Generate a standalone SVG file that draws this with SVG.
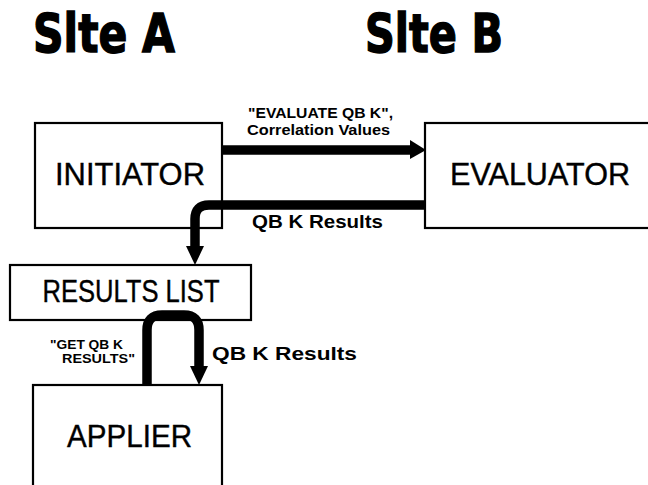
<svg xmlns="http://www.w3.org/2000/svg" width="648" height="485" viewBox="0 0 648 485">
<defs>
<style>
.box{fill:#fff;stroke:#000;stroke-width:2.2}
.nt{font-family:"Liberation Sans",Arial,sans-serif;font-size:31px;fill:#000;stroke:#000;stroke-width:0.4;text-anchor:middle}
.lb{font-family:"Liberation Sans",Arial,sans-serif;font-weight:bold;fill:#000}
.title{font-family:"DejaVu Sans",sans-serif;font-weight:bold;font-size:54px;fill:#000;stroke:#000;stroke-width:1.5}
.wire{fill:none;stroke:#000;stroke-width:9.5}
.head{fill:#000}
</style>
</defs>
<rect width="648" height="485" fill="#fff"/>
<text class="title" x="33" y="52" textLength="142" lengthAdjust="spacingAndGlyphs">Slte A</text>
<text class="title" x="365" y="52" textLength="138" lengthAdjust="spacingAndGlyphs">Slte B</text>

<g id="initiator">
<rect class="box" x="35" y="123" width="187" height="105"/>
<text class="nt" x="130" y="185" textLength="150" lengthAdjust="spacingAndGlyphs">INITIATOR</text>
</g>
<g id="evaluator">
<rect class="box" x="425" y="123" width="240" height="105"/>
<text class="nt" x="540" y="185" textLength="180" lengthAdjust="spacingAndGlyphs">EVALUATOR</text>
</g>
<g id="results-list">
<rect class="box" x="10" y="265" width="241" height="55"/>
<text class="nt" x="131" y="302" textLength="177" lengthAdjust="spacingAndGlyphs">RESULTS LIST</text>
</g>
<g id="applier">
<rect class="box" x="33" y="385" width="189" height="120"/>
<text class="nt" x="129.5" y="447" textLength="125" lengthAdjust="spacingAndGlyphs">APPLIER</text>
</g>

<g id="connectors">
<path class="wire" d="M222 150 H413"/>
<polygon class="head" points="410,140 426,150 410,159"/>
<path class="wire" d="M425 205 H209 Q195 205 195 219 V250"/>
<polygon class="head" points="186,246 204,246 195,265"/>
<path class="wire" d="M147 386 V330 Q147 315 162 315 H184 Q199 315 199 330 V370"/>
<polygon class="head" points="190,366 208,366 199,385"/>
</g>

<g id="labels">
<text class="lb" x="248" y="118" font-size="14" textLength="145" lengthAdjust="spacingAndGlyphs">"EVALUATE QB K",</text>
<text class="lb" x="247" y="135" font-size="15" textLength="143" lengthAdjust="spacingAndGlyphs">Correlation Values</text>
<text class="lb" x="252" y="228" font-size="18" textLength="131" lengthAdjust="spacingAndGlyphs">QB K Results</text>
<text class="lb" x="50" y="349" font-size="12.5" textLength="73" lengthAdjust="spacingAndGlyphs">"GET QB K</text>
<text class="lb" x="62" y="363" font-size="12.5" textLength="73" lengthAdjust="spacingAndGlyphs">RESULTS"</text>
<text class="lb" x="212" y="360" font-size="18" textLength="145" lengthAdjust="spacingAndGlyphs">QB K Results</text>
</g>
</svg>
